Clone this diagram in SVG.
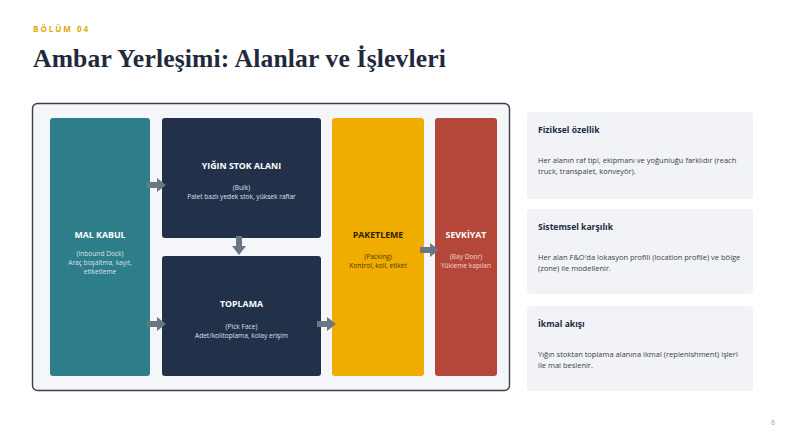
<svg xmlns="http://www.w3.org/2000/svg" width="785" height="442" viewBox="0 0 785 442">
<defs>
<style>
.ttl{font-family:"Open Sans","Noto Sans",sans-serif;font-weight:700;font-size:8.8px;text-anchor:middle}
.sub{font-family:"Open Sans","Noto Sans",sans-serif;font-size:6.6px;text-anchor:middle}
.w{fill:#ffffff}
.sw{fill:#d9e1ea}
.dk{fill:#2b2200}
.ch{font-family:"Open Sans","Noto Sans",sans-serif;font-weight:700;font-size:8.6px;fill:#1f2a3d}
.cb{font-family:"Open Sans","Noto Sans",sans-serif;font-size:7.5px;fill:#3a3f47}
.arr{fill:#6b7685}
.card{fill:#f1f3f7}
</style>
</defs>
<rect width="785" height="442" fill="#ffffff"/>
<text x="33" y="32" font-family="'Open Sans','Noto Sans',sans-serif" font-size="8" font-weight="700" letter-spacing="2" fill="#e0a800">BÖLÜM 04</text>
<text x="33" y="67" font-family="'Liberation Serif','DejaVu Serif',serif" font-size="25.6" font-weight="700" letter-spacing="0.15" fill="#1f2a3d">Ambar Yerleşimi: Alanlar ve İşlevleri</text>

<rect x="32.5" y="103.5" width="477" height="287" rx="5" fill="#f4f6f9" stroke="#3a3f47" stroke-width="1.4"/>

<g id="mal-kabul">
<rect x="50" y="118" width="100" height="258" rx="3" fill="#2e7d8a"/>
<text class="ttl w" x="100" y="238">MAL KABUL</text>
<text class="sub sw" x="100" y="256">(Inbound Dock)</text>
<text class="sub sw" x="100" y="265">Araç boşaltma, kayıt,</text>
<text class="sub sw" x="100" y="274">etiketleme</text>
</g>
<g id="yigin-stok">
<rect x="162" y="118" width="159" height="120" rx="3" fill="#22304a"/>
<text class="ttl w" x="241.5" y="169">YIĞIN STOK ALANI</text>
<text class="sub sw" x="241.5" y="190">(Bulk)</text>
<text class="sub sw" x="241.5" y="199">Palet bazlı yedek stok, yüksek raflar</text>
</g>
<g id="toplama">
<rect x="162" y="256" width="159" height="120" rx="3" fill="#22304a"/>
<text class="ttl w" x="241.5" y="307">TOPLAMA</text>
<text class="sub sw" x="241.5" y="329">(Pick Face)</text>
<text class="sub sw" x="241.5" y="338">Adet/kolitoplama, kolay erişim</text>
</g>
<g id="paketleme">
<rect x="332" y="118" width="92" height="258" rx="3" fill="#f0ad00"/>
<text class="ttl dk" x="378" y="238">PAKETLEME</text>
<text class="sub" fill="#4a3800" x="378" y="259">(Packing)</text>
<text class="sub" fill="#4a3800" x="378" y="268">Kontrol, koli, etiket</text>
</g>
<g id="sevkiyat">
<rect x="435" y="118" width="62" height="258" rx="3" fill="#b5473a"/>
<text class="ttl w" x="466" y="238">SEVKİYAT</text>
<text class="sub" fill="#f0d6d2" x="466" y="259">(Bay Door)</text>
<text class="sub" fill="#f0d6d2" x="466" y="268">Yükleme kapıları</text>
</g>

<g id="connectors">
<path class="arr" d="M147,182 H157 V178 L166,185 L157,192 V188 H147 Z"/>
<path class="arr" d="M147,321 H157 V317 L166,324 L157,331 V327 H147 Z"/>
<path class="arr" d="M236,236 V246 H232 L239,255 L246,246 H242 V236 Z"/>
<path class="arr" d="M317,321 H327 V317 L336,324 L327,331 V327 H317 Z"/>
<path class="arr" d="M420,247 H430 V243 L439,250 L430,257 V253 H420 Z"/>
</g>

<g id="card-fiziksel">
<rect class="card" x="527" y="112" width="226" height="87" rx="4"/>
<text class="ch" x="538" y="133">Fiziksel özellik</text>
<text class="cb" x="538" y="163">Her alanın raf tipi, ekipmanı ve yoğunluğu farklıdır (reach</text>
<text class="cb" x="538" y="174">truck, transpalet, konveyör).</text>
</g>
<g id="card-sistemsel">
<rect class="card" x="527" y="209" width="226" height="85" rx="4"/>
<text class="ch" x="538" y="230">Sistemsel karşılık</text>
<text class="cb" x="538" y="260">Her alan F&amp;O'da lokasyon profili (location profile) ve bölge</text>
<text class="cb" x="538" y="271">(zone) ile modellenir.</text>
</g>
<g id="card-ikmal">
<rect class="card" x="527" y="306" width="226" height="85" rx="4"/>
<text class="ch" x="538" y="327">İkmal akışı</text>
<text class="cb" x="538" y="357">Yığın stoktan toplama alanına ikmal (replenishment) işleri</text>
<text class="cb" x="538" y="368">ile mal beslenir.</text>
</g>
<text x="771" y="425" font-family="'Open Sans','Noto Sans',sans-serif" font-size="7" fill="#9aa0a8">6</text>
</svg>
